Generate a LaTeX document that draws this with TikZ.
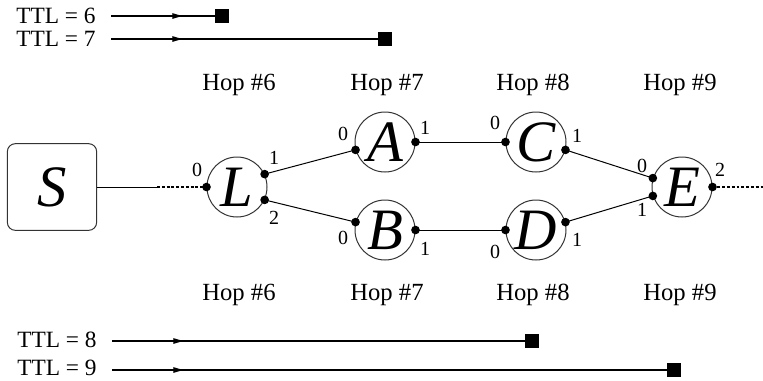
\documentclass[tikz,border=0pt]{standalone}
\usepackage{fontspec}
\setmainfont{Liberation Serif}
\usetikzlibrary{arrows.meta,decorations.markings}
\begin{document}
\begin{tikzpicture}[x=0.75pt,y=-0.75pt,
  circ/.style={circle, draw=black!80, line width=0.75pt, minimum size=45pt, inner sep=0pt, font=\fontsize{44}{44}\selectfont\itshape},
  srcbox/.style={rectangle, rounded corners=6pt, draw=black!80, line width=0.75pt, minimum width=67pt, minimum height=65pt, inner sep=0pt, font=\fontsize{44}{44}\selectfont\itshape},
  port/.style={circle, fill=black, inner sep=0pt, minimum size=6.5pt},
  plabel/.style={font=\fontsize{15}{15}\selectfont, inner sep=0pt},
  hop/.style={font=\fontsize{18.5}{18.5}\selectfont, anchor=base, inner sep=0pt},
  ttl/.style={font=\fontsize{17.5}{17.5}\selectfont, anchor=base west, inner sep=0pt},
  sq/.style={rectangle, fill=black, minimum size=11pt, inner sep=0pt},
  link/.style={line width=0.75pt},
  dotlink/.style={line width=1.6pt, dash pattern=on 2.2pt off 1.4pt},
  ttlline/.style={line width=0.9pt, postaction={decorate},
    decoration={markings, mark=at position 55pt with {\arrow{Latex[length=9pt,width=4.5pt]}}}}
]
\useasboundingbox (0,0) rectangle (763,380);

% TTL lines top
\node[ttl] (ttl6) at (16,23) {TTL = 6};
\coordinate (t6a) at (111,16);
\node[sq] (t6b) at (222,16) {};
\draw[ttlline] (t6a) -- (t6b.center);
\node[ttl] (ttl7) at (16,46) {TTL = 7};
\coordinate (t7a) at (111,39);
\node[sq] (t7b) at (385,39) {};
\draw[ttlline] (t7a) -- (t7b.center);

% TTL lines bottom
\node[ttl] (ttl8) at (17,347) {TTL = 8};
\coordinate (t8a) at (112,341);
\node[sq] (t8b) at (532,341) {};
\draw[ttlline] (t8a) -- (t8b.center);
\node[ttl] (ttl9) at (17,375) {TTL = 9};
\coordinate (t9a) at (112,370);
\node[sq] (t9b) at (674,370) {};
\draw[ttlline] (t9a) -- (t9b.center);

% Hop labels
\node[hop] (h6t) at (239,90) {Hop \#6};
\node[hop] (h7t) at (387,90) {Hop \#7};
\node[hop] (h8t) at (533,90) {Hop \#8};
\node[hop] (h9t) at (680,90) {Hop \#9};
\node[hop] (h6b) at (239,300) {Hop \#6};
\node[hop] (h7b) at (387,300) {Hop \#7};
\node[hop] (h8b) at (533,300) {Hop \#8};
\node[hop] (h9b) at (680,300) {Hop \#9};

% Nodes
\node[srcbox] (S) at (52,187) {S};
\node[circ] (L) at (237,187) {L};
\node[circ] (A) at (385,142) {A};
\node[circ] (B) at (385,230) {B};
\node[circ] (C) at (536,142) {C};
\node[circ] (D) at (536,230) {D};
\node[circ] (E) at (682,187) {E};

% Ports
\node[port] (Lp0) at (L.180) {};
\node[port] (Lp1) at (L.25) {};
\node[port] (Lp2) at (L.-25) {};
\node[port] (Ap0) at (A.195) {};
\node[port] (Ap1) at (A.0) {};
\node[port] (Bp0) at (B.165) {};
\node[port] (Bp1) at (B.0) {};
\node[port] (Cp0) at (C.180) {};
\node[port] (Cp1) at (C.-15) {};
\node[port] (Dp0) at (D.180) {};
\node[port] (Dp1) at (D.15) {};
\node[port] (Ep0) at (E.163) {};
\node[port] (Ep1) at (E.197) {};
\node[port] (Ep2) at (E.0) {};

% Port labels
\node[plabel] (lL0) at (197,170) {0};
\node[plabel] (lL1) at (274,158) {1};
\node[plabel] (lL2) at (274,218) {2};
\node[plabel] (lA0) at (343,134) {0};
\node[plabel] (lA1) at (425,128) {1};
\node[plabel] (lB0) at (343,238) {0};
\node[plabel] (lB1) at (425,249) {1};
\node[plabel] (lC0) at (495,123) {0};
\node[plabel] (lC1) at (577,136) {1};
\node[plabel] (lD0) at (495,252) {0};
\node[plabel] (lD1) at (577,240) {1};
\node[plabel] (lE0) at (642,166) {0};
\node[plabel] (lE1) at (642,210) {1};
\node[plabel] (lE2) at (720,170) {2};

% Connectors
\coordinate (SL) at (157,187);
\draw[link] (S.east) -- (SL);
\draw[dotlink] (SL) -- (Lp0.center);
\draw[link] (Lp1.center) -- (Ap0.center);
\draw[link] (Lp2.center) -- (Bp0.center);
\draw[link] (Ap1.center) -- (Cp0.center);
\draw[link] (Bp1.center) -- (Dp0.center);
\draw[link] (Cp1.center) -- (Ep0.center);
\draw[link] (Dp1.center) -- (Ep1.center);
\coordinate (Eout) at (763,187);
\draw[dotlink] (Ep2.center) -- (Eout);
\end{tikzpicture}
\end{document}
